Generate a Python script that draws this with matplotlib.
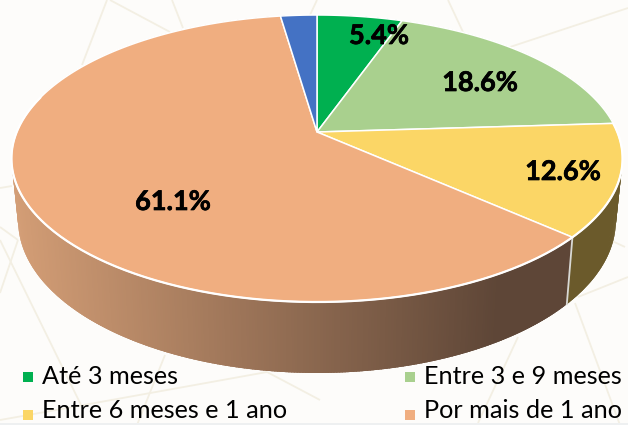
#!/usr/bin/env python
# coding: utf-8

r"""3D looking pie : tempo de espera, with perspective drawn by hand"""
import numpy as np
from matplotlib import patheffects
from matplotlib import pyplot as plt
from matplotlib.collections import LineCollection, PolyCollection

categories = ["Até 3 meses", "Entre 3 e 9 meses",
              "Entre 6 meses e 1 ano", "Por mais de 1 ano", "Sem resposta"]
values = [5.4, 18.6, 12.6, 61.1, 2.3]
labels = ["5.4%", "18.6%", "12.6%", "61.1%", None]

colors = ["#00B050", "#A9D08E", "#FBD666", "#F0AE80", "#4472C4"]
wall_colors = ["#00602C", "#5C7A48", "#6B5A2B", None, "#25406E"]

label_xy = [(379, 36), (480, 83), (563, 172), (173, 202)]
legend_xy = [(22, 377), (404, 377), (22, 415), (404, 415)]
legend_text_y = [377, 377, 411, 411]

background_lines = [
    [(107, 0), (82, 65)], [(110, 0), (170, 32)], [(172, 0), (183, 28)],
    [(317, 0), (310, 15)], [(448, 0), (463, 32)], [(628, 8), (510, 47)],
    [(0, 188), (12, 186)], [(0, 227), (18, 240)], [(18, 240), (0, 293)],
    [(0, 240), (82, 407)], [(165, 355), (137, 425)], [(17, 417), (267, 372)],
    [(267, 372), (320, 400)], [(575, 303), (620, 425)],
    [(518, 337), (478, 423)], [(628, 277), (578, 297)],
    [(625, 247), (610, 240)], [(0, 420), (17, 417)],
]

# apex of the pie in pixels, and perspective of the top face
CX, CY = 317., 132.
RX, RY, PERSP = 300.3, 138.6, 0.1847
# the bottom rim is an affine copy of the top one
BOTTOM_X, BOTTOM_Y, BOTTOM_DY = 0.978, 1.0615, 60.5


def top_rim(theta):
    r"""Pixel position on the top rim, theta in degrees (clockwise from 12h)"""
    a = np.radians(90. - np.asarray(theta, dtype=float))
    denom = 1. + PERSP * np.sin(a)
    return RX * np.cos(a) / denom, RY * np.sin(a) / denom


def to_pixels(px, py):
    return CX + px, CY - py


def bottom_rim(theta):
    px, py = top_rim(theta)
    return CX + BOTTOM_X * px, CY - BOTTOM_Y * py + BOTTOM_DY


def peach_shade(x):
    left = np.array([212, 158, 118]) / 255.
    right = np.array([94, 70, 55]) / 255.
    t = min(max((x - 13.) / (495. - 13.), 0.), 1.)
    return tuple(left + (right - left) * t)


figure = plt.figure(figsize=(6.28, 4.25), dpi=100)
figure.patch.set_facecolor("#FDFCFA")
axes = figure.add_axes([0, 0, 1, 1])
axes.set_xlim(0, 628)
axes.set_ylim(425, 0)
axes.axis("off")

axes.add_collection(LineCollection(background_lines, colors="#F3EFE3",
                                   linewidths=1.3, zorder=1))
axes.axhspan(423, 425, color="#EEF0F1", lw=0, zorder=1)

edges = np.cumsum([0.] + values) * 3.6

# side wall : slices overlap a bit so no seam shows between them
quads, quad_colors = list(), list()
for i, value in enumerate(values):
    thetas = np.linspace(edges[i], edges[i + 1], int(value * 8) + 2)
    step = thetas[1] - thetas[0]
    for t0 in thetas[:-1]:
        t1 = min(t0 + 2.5 * step, edges[i + 1])
        x0, y0 = to_pixels(*top_rim(t0))
        x1, y1 = to_pixels(*top_rim(t1))
        x2, y2 = bottom_rim(t1)
        x3, y3 = bottom_rim(t0)
        quads.append([(x0, y0), (x1, y1), (x2, y2), (x3, y3)])
        if wall_colors[i] is None:
            quad_colors.append(peach_shade((x0 + x1 + x2 + x3) / 4.))
        else:
            quad_colors.append(wall_colors[i])
axes.add_collection(PolyCollection(quads, facecolors=quad_colors,
                                   edgecolors="none", zorder=2))

# seam between the yellow and the peach walls
x0, y0 = to_pixels(*top_rim(edges[3]))
x1, y1 = bottom_rim(edges[3])
axes.plot([x0, x1], [y0, y1], color="#D8D8D4", lw=1.3, zorder=3)

# top face
for i, value in enumerate(values):
    thetas = np.linspace(edges[i], edges[i + 1], int(value * 8) + 2)
    px, py = to_pixels(*top_rim(thetas))
    xs = np.concatenate([[CX], px])
    ys = np.concatenate([[CY], py])
    axes.fill(xs, ys, facecolor=colors[i], edgecolor="white", lw=1.1,
              joinstyle="round", zorder=4)

# white highlight along the front of the rim
thetas = np.linspace(edges[2], 285., 300)
px, py = to_pixels(*top_rim(thetas))
axes.plot(px, py, color="white", lw=1.6, zorder=4.5)

for text, (x, y) in zip(labels, label_xy):
    t = axes.text(x, y, text, ha="center", va="center", color="black",
                  family="Lato", weight="bold", fontsize=19.5, zorder=5)
    t.set_path_effects([patheffects.withStroke(linewidth=0.5,
                                               foreground="black")])

for i, (x, y) in enumerate(legend_xy):
    axes.scatter([x + 5.5], [y], marker="s", s=58, color=colors[i],
                 linewidths=0, zorder=5)
    axes.text(x + 20, legend_text_y[i], categories[i], ha="left", va="center",
              color="black", family="Lato", fontsize=18.2, zorder=5)

figure.savefig("out.png", dpi=100, facecolor=figure.get_facecolor())
